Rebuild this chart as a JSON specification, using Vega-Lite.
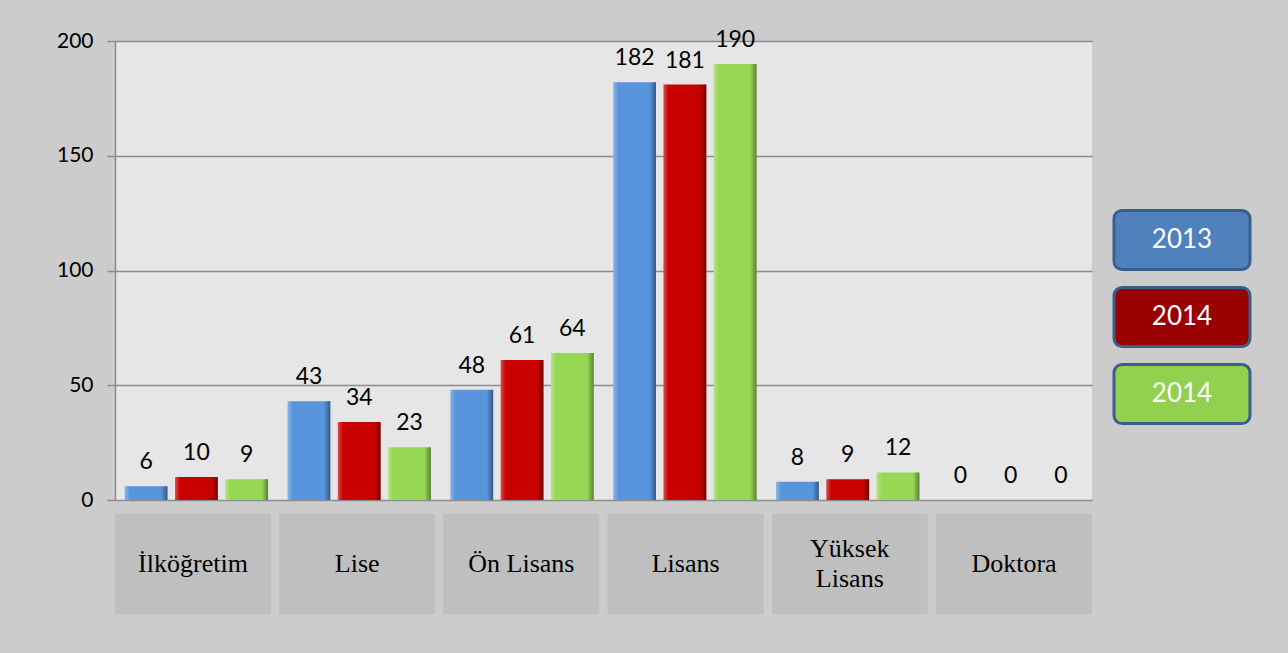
{
  "$schema": "https://vega.github.io/schema/vega-lite/v6.json",
  "background": "#cccccc",
  "padding": {"left": 56, "top": 28, "right": 40, "bottom": 40},
  "config": {"view": {"stroke": null}},
  "datasets": {
    "bars": [
      {"category": "İlköğretim", "series": "2013", "value": 6},
      {"category": "İlköğretim", "series": "2014", "value": 10},
      {"category": "İlköğretim", "series": "2014 (2)", "value": 9},
      {"category": "Lise", "series": "2013", "value": 43},
      {"category": "Lise", "series": "2014", "value": 34},
      {"category": "Lise", "series": "2014 (2)", "value": 23},
      {"category": "Ön Lisans", "series": "2013", "value": 48},
      {"category": "Ön Lisans", "series": "2014", "value": 61},
      {"category": "Ön Lisans", "series": "2014 (2)", "value": 64},
      {"category": "Lisans", "series": "2013", "value": 182},
      {"category": "Lisans", "series": "2014", "value": 181},
      {"category": "Lisans", "series": "2014 (2)", "value": 190},
      {"category": "Yüksek Lisans", "series": "2013", "value": 8},
      {"category": "Yüksek Lisans", "series": "2014", "value": 9},
      {"category": "Yüksek Lisans", "series": "2014 (2)", "value": 12},
      {"category": "Doktora", "series": "2013", "value": 0},
      {"category": "Doktora", "series": "2014", "value": 0},
      {"category": "Doktora", "series": "2014 (2)", "value": 0}
    ],
    "cats": [
      {"category": "İlköğretim", "label": "İlköğretim"},
      {"category": "Lise", "label": "Lise"},
      {"category": "Ön Lisans", "label": "Ön Lisans"},
      {"category": "Lisans", "label": "Lisans"},
      {"category": "Yüksek Lisans", "label": "Yüksek\nLisans"},
      {"category": "Doktora", "label": "Doktora"}
    ],
    "legend": [
      {"series": "2013", "label": "2013"},
      {"series": "2014", "label": "2014"},
      {"series": "2014 (2)", "label": "2014"}
    ]
  },
  "resolve": {"scale": {"color": "independent"}},
  "spacing": 20,
  "hconcat": [
    {
      "bounds": "flush",
      "spacing": 14,
      "resolve": {"scale": {"x": "independent"}},
      "vconcat": [
        {
          "width": 977,
          "height": 459,
          "data": {"name": "bars"},
          "view": {"fill": "#e6e6e6", "stroke": null},
          "encoding": {
            "x": {
              "field": "category",
              "type": "nominal",
              "sort": ["İlköğretim", "Lise", "Ön Lisans", "Lisans", "Yüksek Lisans", "Doktora"],
              "scale": {"paddingInner": 0.12, "paddingOuter": 0.06},
              "axis": null
            },
            "xOffset": {
              "field": "series",
              "type": "nominal",
              "sort": ["2013", "2014", "2014 (2)"],
              "scale": {"paddingInner": 0.15}
            },
            "y": {
              "field": "value",
              "type": "quantitative",
              "scale": {"domain": [0, 200]},
              "axis": {
                "values": [0, 50, 100, 150, 200],
                "title": null,
                "grid": true,
                "gridColor": "#8c8c8c",
                "gridWidth": 1.5,
                "domainColor": "#8c8c8c",
                "domainWidth": 1.5,
                "tickColor": "#8c8c8c",
                "tickWidth": 1.5,
                "tickSize": 8,
                "labelFont": "Lato",
                "labelFontSize": 21,
                "labelColor": "#000000",
                "labelPadding": 14
              }
            }
          },
          "layer": [
            {
              "mark": {"type": "bar"},
              "encoding": {
                "color": {
                  "field": "series",
                  "type": "nominal",
                  "scale": {"domain": ["2013", "2014", "2014 (2)"], "range": ["#5895dc", "#c80000", "#96d753"]},
                  "legend": null
                }
              }
            },
            {
              "mark": {
                "type": "bar",
                "fill": {
                  "gradient": "linear",
                  "x1": 0, "y1": 0, "x2": 1, "y2": 0,
                  "stops": [
                    {"offset": 0, "color": "rgba(255,255,255,0.30)"},
                    {"offset": 0.12, "color": "rgba(255,255,255,0.0)"},
                    {"offset": 0.85, "color": "rgba(0,0,0,0.0)"},
                    {"offset": 1, "color": "rgba(0,0,0,0.40)"}
                  ]
                }
              }
            },
            {
              "mark": {"type": "text", "baseline": "middle", "dy": -24, "font": "Lato", "fontSize": 23, "color": "#000000"},
              "encoding": {"text": {"field": "value", "type": "quantitative"}}
            }
          ]
        },
        {
          "width": 977,
          "height": 100,
          "data": {"name": "cats"},
          "encoding": {
            "x": {
              "field": "category",
              "type": "nominal",
              "sort": ["İlköğretim", "Lise", "Ön Lisans", "Lisans", "Yüksek Lisans", "Doktora"],
              "scale": {"paddingInner": 0.05, "paddingOuter": 0},
              "axis": null
            }
          },
          "layer": [
            {"mark": {"type": "rect", "color": "#bfbfbf"}},
            {
              "transform": [{"filter": "indexof(datum.label, '\\n') < 0"}],
              "mark": {"type": "text", "font": "Liberation Serif", "fontSize": 26, "color": "#000000", "baseline": "middle"},
              "encoding": {"text": {"field": "label", "type": "nominal"}}
            },
            {
              "transform": [{"filter": "indexof(datum.label, '\\n') >= 0"}],
              "mark": {"type": "text", "font": "Liberation Serif", "fontSize": 26, "lineBreak": "\n", "lineHeight": 30, "color": "#000000", "baseline": "middle", "dy": -15},
              "encoding": {"text": {"field": "label", "type": "nominal"}}
            }
          ]
        }
      ]
    },
    {
      "width": 136,
      "height": 552,
      "data": {"name": "legend"},
      "encoding": {
        "y": {
          "field": "series",
          "type": "nominal",
          "scale": {"domain": ["p1", "p2", "2013", "2014", "2014 (2)", "p3", "p4"], "paddingInner": 0.234, "paddingOuter": 0.2},
          "axis": null
        }
      },
      "layer": [
        {
          "mark": {"type": "rect", "cornerRadius": 8, "stroke": "#3a5f8b", "strokeWidth": 3},
          "encoding": {
            "color": {
              "field": "series",
              "type": "nominal",
              "scale": {"domain": ["2013", "2014", "2014 (2)"], "range": ["#4f81bd", "#990000", "#92d050"]},
              "legend": null
            }
          }
        },
        {
          "mark": {"type": "text", "color": "#ffffff", "font": "Lato", "fontSize": 26, "baseline": "middle"},
          "encoding": {"text": {"field": "label", "type": "nominal"}}
        }
      ]
    }
  ]
}
